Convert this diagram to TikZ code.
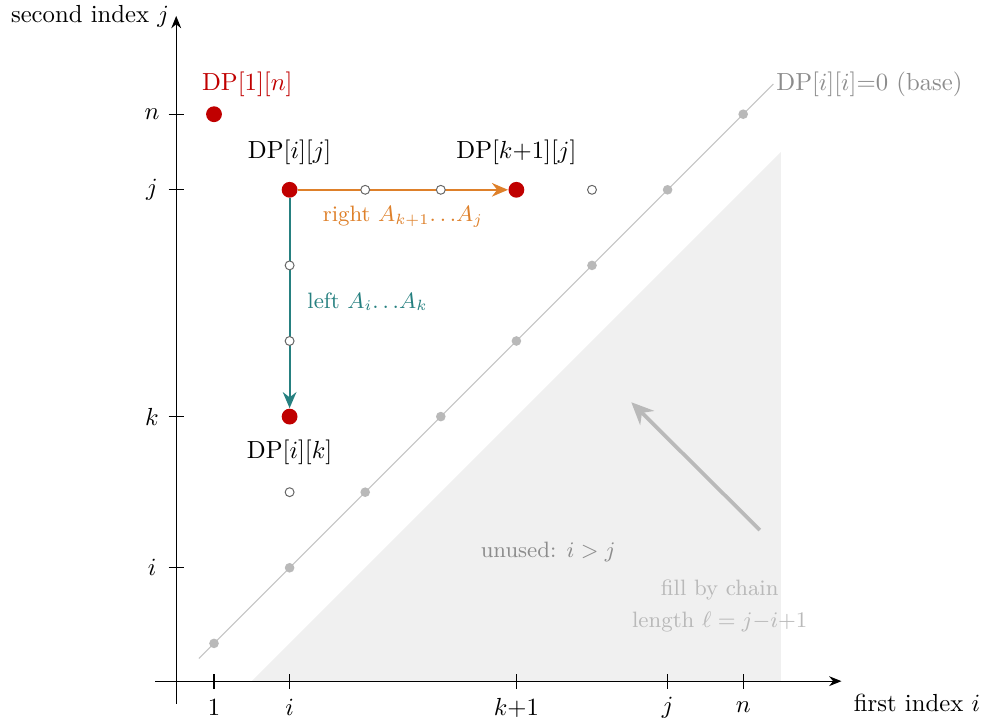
\documentclass[tikz,border=0pt]{standalone}
\usetikzlibrary{arrows.meta}
\definecolor{dpred}{RGB}{192,0,0}
\definecolor{dporange}{RGB}{222,128,42}
\definecolor{dpteal}{RGB}{38,128,128}
\definecolor{unusedfill}{RGB}{240,240,240}
\definecolor{diaggray}{RGB}{185,185,185}
\definecolor{linegray}{RGB}{195,195,195}
\definecolor{notegray}{RGB}{140,140,140}
\definecolor{lightnote}{RGB}{185,185,185}
\tikzset{
  reddot/.style={circle,fill=dpred,inner sep=0pt,minimum size=6.4pt},
  basedot/.style={circle,fill=diaggray,inner sep=0pt,minimum size=3.9pt},
  opendot/.style={circle,draw=black!60,line width=0.4pt,fill=white,inner sep=0pt,minimum size=3.6pt},
  axisline/.style={line width=0.5pt,-{Stealth[length=5pt,width=4pt]}},
  tickmark/.style={line width=0.5pt},
}
\begin{document}
\begin{tikzpicture}[x=1.075cm,y=1.075cm]
\useasboundingbox (-1.831,-0.026) rectangle (11.159,9.511);
% unused region
\fill[unusedfill] (1.5,0.5) -- (8.5,7.5) -- (8.5,0.5) -- cycle;
% axes
\coordinate (xs) at (0.22,0.5);
\coordinate (xe) at (9.3,0.5);
\coordinate (ys) at (0.5,0.2);
\coordinate (ye) at (0.5,9.3);
\draw[axisline] (xs) -- (xe);
\draw[axisline] (ys) -- (ye);
\node[anchor=west] (xlab) at (9.35,0.21) {first index $i$};
\node[anchor=east] (ylab) at (0.52,9.29) {second index $j$};
% ticks x
\foreach \x/\l/\n in {1/1/xa,2/i/xb,5/k{+}1/xc,7/j/xd,8/n/xe2}{
  \draw[tickmark] (\x,0.4) -- (\x,0.6);
  \node (\n) at (\x,0.15) {$\l$};
}
% ticks y
\foreach \y/\l/\n in {2/i/ya,4/k/yb,7/j/yc,8/n/yd}{
  \draw[tickmark] (0.4,\y) -- (0.6,\y);
  \node (\n) at (0.18,\y) {$\l$};
}
% diagonal
\coordinate (d0) at (0.8,0.8);
\coordinate (d1) at (8.4,8.4);
\draw[linegray,line width=0.4pt] (d0) -- (d1);
\node[anchor=west,text=notegray,inner sep=1pt] (baselab) at (d1) {DP[$i$][$i$]=0 (base)};
\foreach \k in {1,...,8}{
  \node[basedot] (b\k) at (\k,\k) {};
}
% red cells
\node[reddot] (dp1n) at (1,8) {};
\node[reddot] (dpij) at (2,7) {};
\node[reddot] (dpkj) at (5,7) {};
\node[reddot] (dpik) at (2,4) {};
\node[text=dpred] (l1n) at (1.44,8.39) {DP[1][$n$]};
\node (lij) at (2,7.5) {DP[$i$][$j$]};
\node (lkj) at (5,7.5) {DP[$k{+}1$][$j$]};
\node (lik) at (2,3.53) {DP[$i$][$k$]};
% arrows
\draw[dporange,line width=0.8pt,-{Stealth[length=6.5pt,width=5.5pt]}] (dpij) -- (dpkj)
  node[midway,below=3pt,text=dporange,font=\small] (rlab) {right $A_{k+1}{\ldots}A_j$};
\draw[dpteal,line width=0.8pt,-{Stealth[length=6.5pt,width=5.5pt]}] (dpij) -- (dpik);
\node[anchor=west,text=dpteal,font=\small] (llab) at (2.12,5.52) {left $A_i{\ldots}A_k$};
% open cells (on top of lines)
\node[opendot] (o37) at (3,7) {};
\node[opendot] (o47) at (4,7) {};
\node[opendot] (o67) at (6,7) {};
\node[opendot] (o26) at (2,6) {};
\node[opendot] (o25) at (2,5) {};
\node[opendot] (o23) at (2,3) {};
% fill order arrow
\coordinate (fa) at (8.22,2.5);
\coordinate (fb) at (6.52,4.19);
\draw[diaggray,line width=1.5pt,-{Stealth[length=9pt,width=8pt]}] (fa) -- (fb);
\node[text=notegray,font=\small] (unused) at (5.42,2.21) {unused: $i>j$};
\node[text=lightnote,font=\small,align=center] (filllab) at (7.69,1.5) {fill by chain\\[2pt]length $\ell=j{-}i{+}1$};
\end{tikzpicture}
\end{document}
